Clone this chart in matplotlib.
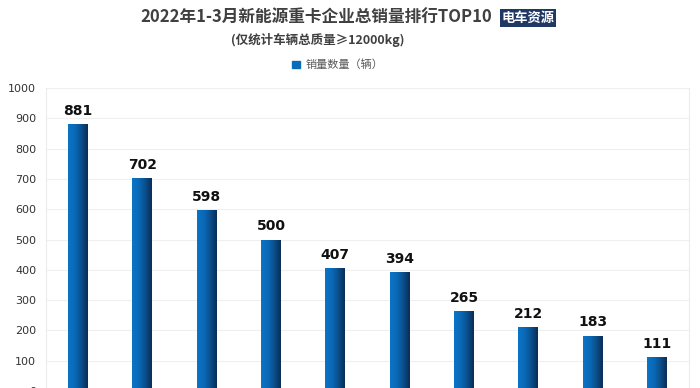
import numpy as np
from matplotlib import pyplot as plt
from matplotlib.colors import LinearSegmentedColormap
from matplotlib.patches import Patch

plt.rcParams['font.family'] = ['Noto Sans CJK SC', 'DejaVu Sans']

# data (x labels are cut off in the reference, so ranks only)
ranks = ['1', '2', '3', '4', '5', '6', '7', '8', '9', '10']
sales = [881, 702, 598, 500, 407, 394, 265, 212, 183, 111]
yticks = [0, 100, 200, 300, 400, 500, 600, 700, 800, 900, 1000]

title = '2022年1-3月新能源重卡企业总销量排行TOP10'
subtitle = '(仅统计车辆总质量≥12000kg)'
legend_label = '销量数量（辆）'
logo = '电车资源'

W, H = 700, 388
fig = plt.figure(figsize=(W / 100, H / 100), dpi=100)
# plot area: x 46..689 px, y=1000 at 88 px, y=0 at 391 px (below the crop)
ax = fig.add_axes([46 / W, (H - 391) / H, (689 - 46) / W, (391 - 88) / H])

x = np.arange(len(sales))
bars = ax.bar(x, sales, width=0.31, color='#0a6cb8', zorder=2)

# horizontal gradient on each bar
cmap = LinearSegmentedColormap.from_list('g', ['#0b74c6', '#0a6ab8', '#0b4f8c', '#0a2d55'])
grad = np.linspace(0, 1, 64).reshape(1, -1)
for b in bars:
    bx, bw, bh = b.get_x(), b.get_width(), b.get_height()
    im = ax.imshow(grad, cmap=cmap, aspect='auto', extent=(bx, bx + bw, 0, bh),
                   zorder=3, interpolation='bicubic')
    im.set_clip_path(b)
    b.set_facecolor('none')
    ax.text(bx + bw / 2, bh + 20, str(int(bh)), ha='center', va='bottom',
            fontsize=10, fontweight='bold', color='#111111', zorder=4,
            family='DejaVu Sans')

ax.set_xlim(-0.5, len(sales) - 0.5)
ax.set_ylim(0, 1000)
ax.set_yticks(yticks)
ax.set_xticks(x)
ax.set_xticklabels(ranks)
ax.tick_params(axis='y', length=0, labelsize=8, colors='#333333', pad=7)
for lab in ax.get_yticklabels():
    lab.set_family('DejaVu Sans')
ax.tick_params(axis='x', length=0, labelbottom=False)
ax.grid(axis='y', color='#efefef', linewidth=0.8, zorder=0)
for s in ['top', 'bottom']:
    ax.spines[s].set_visible(False)
for s in ['left', 'right']:
    ax.spines[s].set_color('#ececec')
    ax.spines[s].set_linewidth(0.8)

fig.text(316 / W, 1 - 18 / H, title, ha='center', va='center',
         fontsize=12, fontweight='bold', color='#404040')
fig.text(528 / W, 1 - 18 / H, logo, ha='center', va='center', fontsize=9.5,
         fontweight='bold', color='white',
         bbox=dict(boxstyle='square,pad=0.15', facecolor='#1f3864', edgecolor='none'))
fig.text(318 / W, 1 - 40 / H, subtitle, ha='center', va='center',
         fontsize=9, fontweight='bold', color='#404040')
fig.legend(handles=[Patch(color='#0a6cb8')], labels=[legend_label], loc='center',
           bbox_to_anchor=(338 / W, 1 - 65 / H), frameon=False, fontsize=8,
           labelcolor='#595959', handlelength=0.7, handleheight=0.7, handletextpad=0.5)

fig.savefig('out.png', dpi=100)
